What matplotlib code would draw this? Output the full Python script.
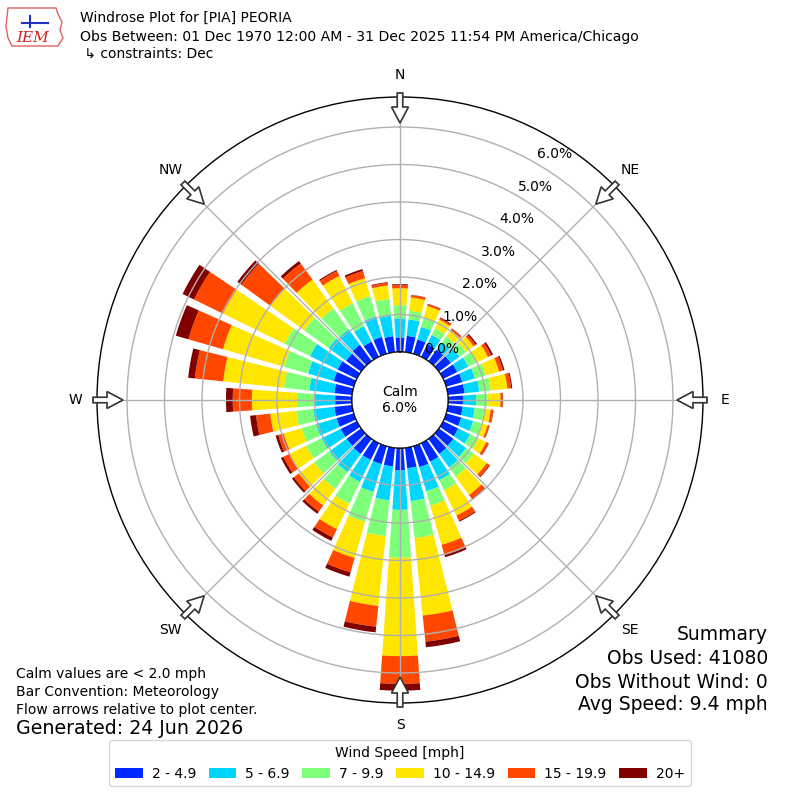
import numpy as np
import matplotlib
matplotlib.use("Agg")
import matplotlib.pyplot as plt
from matplotlib.patches import Patch, Circle, FancyArrow, Polygon
from matplotlib.transforms import offset_copy

# ---------------- data ----------------
directions = list(range(0, 360, 10))
speed_bins = ["2 - 4.9", "5 - 6.9", "7 - 9.9", "10 - 14.9", "15 - 19.9", "20+"]
# percent of observations per direction, per speed bin
bin_2_5 = [0.39, 0.44, 0.40, 0.38, 0.38, 0.40, 0.42, 0.45, 0.45, 0.40, 0.40, 0.42,
           0.45, 0.48, 0.50, 0.55, 0.58, 0.55, 0.60, 0.50, 0.50, 0.50, 0.50, 0.48,
           0.48, 0.48, 0.48, 0.45, 0.48, 0.56, 0.57, 0.50, 0.54, 0.45, 0.47, 0.43]
bin_5_7 = [0.51, 0.44, 0.35, 0.27, 0.24, 0.28, 0.33, 0.35, 0.40, 0.35, 0.32, 0.33,
           0.35, 0.42, 0.45, 0.55, 0.67, 0.88, 1.05, 0.91, 0.77, 0.65, 0.60, 0.57,
           0.57, 0.57, 0.57, 0.58, 0.67, 0.71, 0.82, 0.57, 0.51, 0.46, 0.57, 0.55]
bin_7_10 = [0.35, 0.23, 0.25, 0.20, 0.20, 0.22, 0.25, 0.30, 0.30, 0.30, 0.26, 0.23,
            0.25, 0.25, 0.30, 0.30, 0.40, 0.99, 1.28, 0.96, 0.83, 0.65, 0.55, 0.50,
            0.45, 0.40, 0.45, 0.44, 0.68, 0.67, 0.75, 0.81, 0.69, 0.68, 0.56, 0.45]
bin_10_15 = [0.45, 0.36, 0.33, 0.25, 0.20, 0.25, 0.33, 0.37, 0.45, 0.35, 0.17, 0.17,
             0.23, 0.43, 0.60, 0.75, 1.09, 2.08, 2.62, 1.87, 1.00, 0.75, 0.55, 0.50,
             0.50, 0.50, 0.70, 1.20, 1.63, 1.69, 1.83, 1.12, 0.95, 0.81, 0.50, 0.36]
bin_15_20 = [0.09, 0.06, 0.05, 0.05, 0.05, 0.07, 0.10, 0.11, 0.10, 0.06, 0.07, 0.05,
             0.07, 0.09, 0.12, 0.15, 0.28, 0.70, 0.74, 0.56, 0.40, 0.25, 0.20, 0.17,
             0.18, 0.15, 0.38, 0.51, 0.76, 0.96, 0.86, 0.95, 0.53, 0.15, 0.20, 0.07]
bin_20p = [0.02, 0.01, 0.01, 0.02, 0.01, 0.04, 0.05, 0.04, 0.03, 0.01, 0.01, 0.01,
           0.01, 0.02, 0.02, 0.03, 0.06, 0.15, 0.18, 0.15, 0.12, 0.10, 0.07, 0.06,
           0.07, 0.07, 0.16, 0.18, 0.18, 0.35, 0.34, 0.13, 0.08, 0.03, 0.05, 0.02]
rings = [0, 1, 2, 3, 4, 5, 6]
compass = ["N", "NE", "E", "SE", "S", "SW", "W", "NW"]
calm_pct = 6.0

series = [bin_2_5, bin_5_7, bin_7_10, bin_10_15, bin_15_20, bin_20p]

# ---------------- figure ----------------
fig = plt.figure(figsize=(8, 8), dpi=100)
R_OUT = 303.0   # px radius of polar frame
R_CALM = 48.0   # px radius of calm circle
RMAX = 6.8
ORIGIN = R_CALM * RMAX / (R_OUT - R_CALM)

ax = fig.add_axes([(400 - R_OUT) / 800, (400 - R_OUT) / 800, 2 * R_OUT / 800, 2 * R_OUT / 800],
                  projection="polar")
ax.set_theta_zero_location("N")
ax.set_theta_direction(-1)
ax.set_rorigin(-ORIGIN)
ax.set_ylim(0, RMAX)

colors = [plt.cm.jet(k / 6.0) for k in range(1, 7)]
theta = np.deg2rad(directions)
width = np.deg2rad(8.0)
bottom = np.zeros(len(directions))
for vals, col in zip(series, colors):
    v = np.array(vals)
    ax.bar(theta, v, width=width, bottom=bottom, color=col, linewidth=0, zorder=1)
    bottom = bottom + v

ax.set_rticks(rings[1:])
ax.set_yticklabels([])
ax.set_thetagrids(range(0, 360, 45), labels=[])
ax.grid(True, color="#b0b0b0", linewidth=1.0)
ax.spines["polar"].set_color("black")
ax.spines["polar"].set_linewidth(1.0)

# ring labels
lab_tr = offset_copy(ax.transData, fig=fig, x=17.7, y=9.4, units="dots")
for v in rings:
    ax.text(np.deg2rad(30), v, f"{v:.1f}%", transform=lab_tr, ha="center", va="center",
            fontsize=10, zorder=6)

# calm circle
ax.add_patch(Circle((0.5, 0.5), R_CALM / (2 * R_OUT), transform=ax.transAxes,
                    facecolor="white", edgecolor="black", linewidth=1.0, zorder=5))
ax.text(0.5, 0.5, f"Calm\n{calm_pct:.1f}%", transform=ax.transAxes, ha="center",
        va="center", fontsize=10, zorder=6)

# compass labels and arrows
for k, name in enumerate(compass):
    ang = np.deg2rad(45 * k)
    s, c = np.sin(ang), np.cos(ang)
    fig.text((400 + 325 * s) / 800, (400 + 325 * c) / 800, name, ha="center", va="center",
             fontsize=10)
    tail = np.array([400 + 307 * s, 400 + 307 * c]) / 100.0
    tip = np.array([400 + 277 * s, 400 + 277 * c]) / 100.0
    arr = FancyArrow(tail[0], tail[1], tip[0] - tail[0], tip[1] - tail[1], width=0.055,
                     head_width=0.17, head_length=0.16, length_includes_head=True,
                     transform=fig.dpi_scale_trans, facecolor="white",
                     edgecolor="#333333", linewidth=1.2, zorder=10)
    fig.add_artist(arr)

# header
def fy(py):
    return 1 - py / 800.0

fig.text(80 / 800, fy(18), "Windrose Plot for [PIA] PEORIA", fontsize=10, va="center")
fig.text(80 / 800, fy(37), "Obs Between: 01 Dec 1970 12:00 AM - 31 Dec 2025 11:54 PM America/Chicago",
         fontsize=10.1, va="center")
fig.text(80 / 800, fy(54), " \u21b3 constraints: Dec", fontsize=10, va="center")

# simple logo
logo = Polygon(np.array([[8, 8], [56, 8], [58, 14], [62, 22], [60, 30], [63, 38], [58, 46],
                         [12, 46], [8, 38], [6, 26]]) * [1, -1] / 100.0 + [0, 8],
               closed=True, transform=fig.dpi_scale_trans, facecolor="white",
               edgecolor="#e06060", linewidth=1.0)
fig.add_artist(logo)
fig.text(33 / 800, fy(38), "IEM", fontsize=11, color="#d02020", style="italic",
         family="DejaVu Serif", ha="center", va="center")
fig.add_artist(plt.Line2D([22 / 800, 48 / 800], [fy(23), fy(23)], color="#2030c0", lw=1.5))
fig.add_artist(plt.Line2D([30 / 800, 30 / 800], [fy(16), fy(27)], color="#2030c0", lw=1.5))

# bottom-left notes
fig.text(16 / 800, fy(674), "Calm values are < 2.0 mph", fontsize=10, va="center")
fig.text(16 / 800, fy(692), "Bar Convention: Meteorology", fontsize=10, va="center")
fig.text(16 / 800, fy(710), "Flow arrows relative to plot center.", fontsize=10, va="center")
fig.text(16 / 800, fy(729), "Generated: 24 Jun 2026", fontsize=13.7, va="center")

# summary
for txt, py in [("Summary", 635), ("Obs Used: 41080", 659), ("Obs Without Wind: 0", 682),
                ("Avg Speed: 9.4 mph", 705)]:
    fig.text(768 / 800, fy(py), txt, fontsize=13.5, ha="right", va="center")

handles = [Patch(facecolor=c, edgecolor="none") for c in colors]
fig.legend(handles, speed_bins, loc="lower center", bbox_to_anchor=(0.5, 7 / 800), ncol=6,
           title="Wind Speed [mph]", fontsize=10, title_fontsize=10,
           columnspacing=0.9, handletextpad=0.65)

fig.savefig("out.png", dpi=100)
